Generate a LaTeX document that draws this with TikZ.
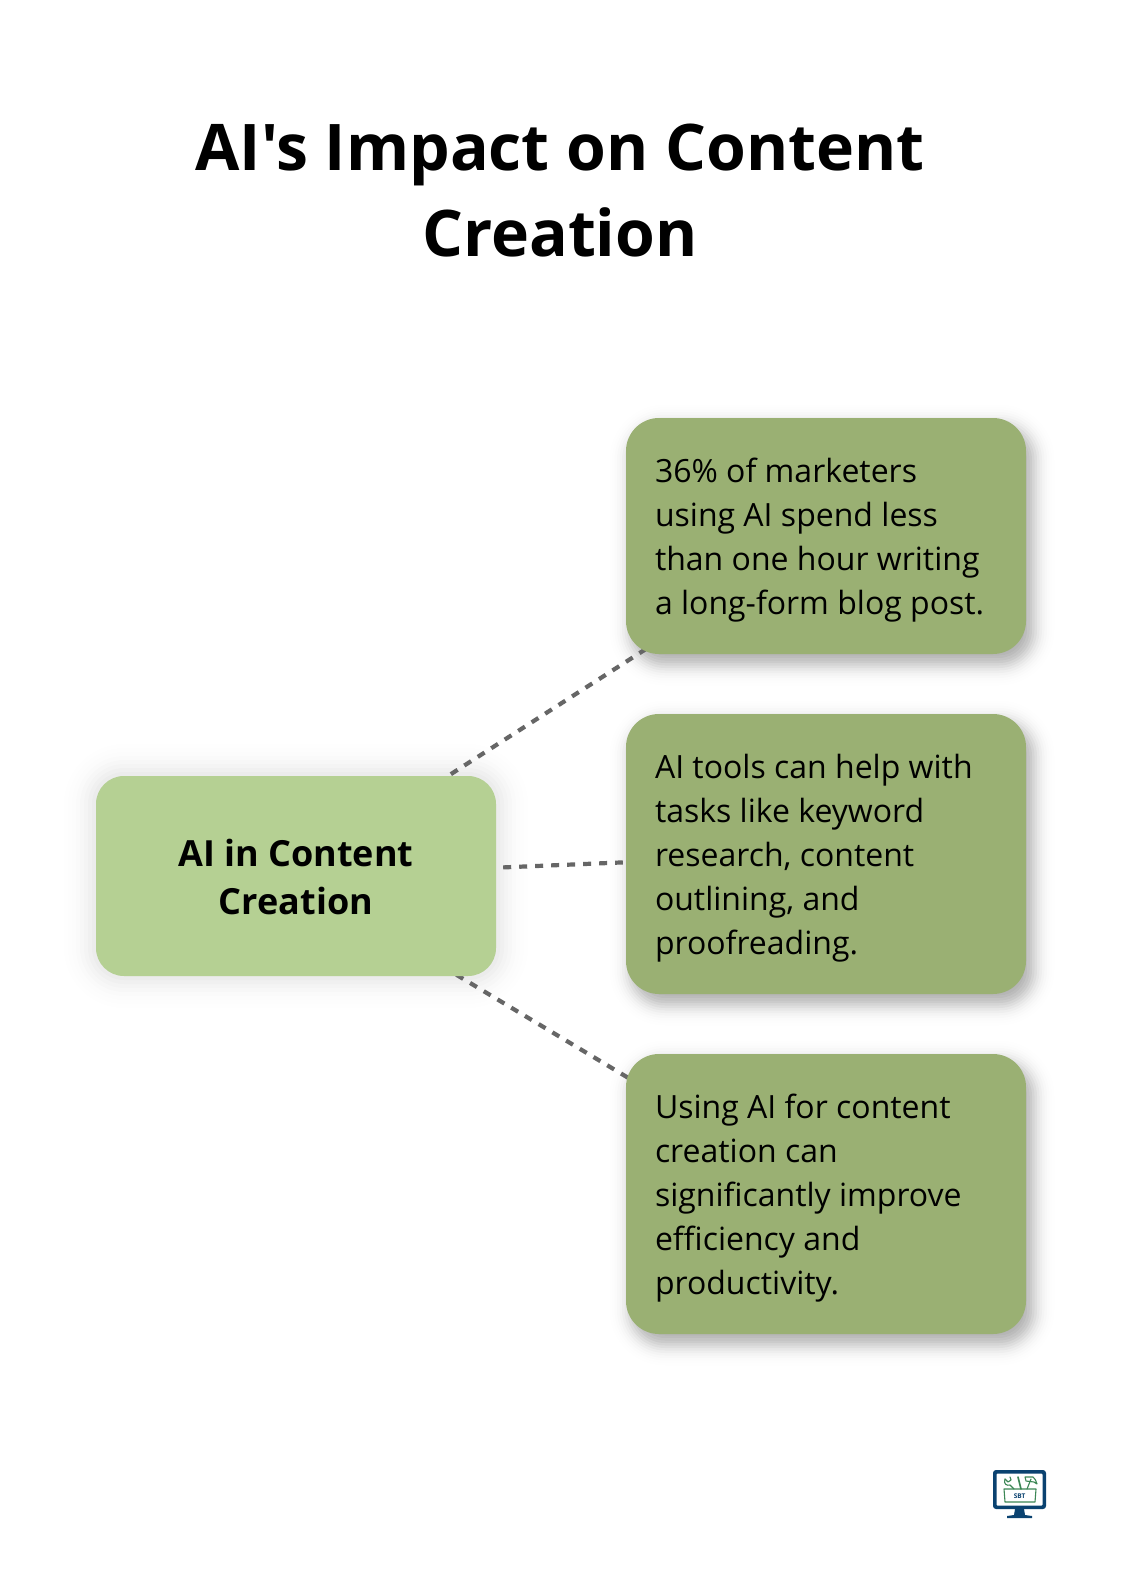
\documentclass[tikz,border=0pt]{standalone}
\usepackage{fontspec}
\newfontfamily\opensans{Open Sans}
\usetikzlibrary{backgrounds,calc}
\definecolor{lightgreen}{RGB}{181,208,147}
\definecolor{darkgreen}{RGB}{154,176,115}
\definecolor{dashgrey}{RGB}{102,102,102}
\definecolor{logonavy}{RGB}{10,66,112}
\definecolor{logogreen}{RGB}{60,135,85}
\tikzset{
  x=1pt,y=-1pt,
  titletext/.style={font=\opensans\fontsize{64.3}{85.6}\selectfont\bfseries,align=center,text=black,inner sep=0},
  mainbox/.style={fill=lightgreen,rounded corners=28pt,minimum width=400pt,minimum height=200pt,text width=340pt,align=flush center,inner sep=0,font=\opensans\fontsize{36}{48.3}\selectfont\bfseries},
  sidebox/.style={fill=darkgreen,rounded corners=33pt,minimum width=400pt,text width=342pt,align=flush left,inner sep=0,font=\opensans\fontsize{32}{44}\selectfont},
  link/.style={draw=dashgrey,line width=4.2pt,dash pattern=on 8pt off 8pt},
  logoline/.style={draw=logogreen,line width=1.1pt,line cap=round,line join=round}
}
% soft shadow: stacked translucent rounded rectangles with a bell-shaped weight
\newcommand{\softbox}[7]{% x1,y1,x2,y2,radius,sigma,alpha
  \foreach \k in {-10,...,10}{
    \pgfmathsetmacro{\dd}{\k*#6/4}
    \pgfmathsetmacro{\ww}{#7*0.25*0.3989*exp(-(\k/4)*(\k/4)/2)}
    \pgfmathsetmacro{\rr}{max(#5+\dd,1)}
    \fill[black,opacity=\ww,rounded corners=\rr pt] (#1-\dd,#2-\dd) rectangle (#3+\dd,#4+\dd);
  }
}
\newcommand{\lowered}{\rule{0pt}{33pt}}
\newcommand{\nudged}{\rule{0pt}{30pt}}
\begin{document}
\begin{tikzpicture}
\useasboundingbox (0,0) rectangle (1120,1594);
\node[titletext] (title) at (560,190.5) {AI's Impact on Content\\Creation};
\node[mainbox] (main) at (296,876) {\nudged AI in Content\\Creation};
\node[sidebox,minimum height=236pt] (one) at (826,536) {\lowered 36\% of marketers\\using AI spend less\\than one hour writing\\a long-form blog post.};
\node[sidebox,minimum height=280pt] (two) at (826,854) {\lowered AI tools can help with\\tasks like keyword\\research, content\\outlining, and\\proofreading.};
\node[sidebox,minimum height=280pt] (three) at (826,1194) {\lowered Using AI for content\\creation can\\significantly improve\\efficiency and\\productivity.};
\begin{scope}[on background layer]
  \fill[white] (0,0) rectangle (1120,1594);
  \softbox{96}{776}{496}{976}{28}{16}{.17}
  \softbox{632}{427}{1032}{663}{33}{10}{.38}
  \softbox{632}{723}{1032}{1003}{33}{10}{.38}
  \softbox{632}{1063}{1032}{1343}{33}{10}{.38}
  \draw[link,dash phase=8pt] ($(main.center)+(0,-2.5)$) -- ($(one.center)+(0,-2.5)$);
  \draw[link,shorten <=7pt,shorten >=3pt] (main) -- (two);
  \draw[link,dash phase=5pt] ($(main.center)+(0,2.5)$) -- ($(three.center)+(0,2.5)$);
\end{scope}
% logo
\fill[logonavy,rounded corners=3pt] (993,1470) rectangle (1046,1509);
\fill[white,rounded corners=1pt] (996.5,1473.5) rectangle (1042.5,1505.5);
\fill[logonavy] (1015,1509) -- (1024,1509) -- (1025,1515) -- (1032,1516) -- (1032,1518) -- (1007,1518) -- (1007,1516) -- (1014,1515) -- cycle;
\draw[logoline] (1004,1489) -- (1036,1489) -- (1035,1502) -- (1005,1502) -- cycle;
\draw[logoline] (1005,1479) .. controls (1003,1484) and (1007,1486) .. (1010,1485) -- (1014,1489);
\draw[logoline] (1005,1479) -- (1008,1482) -- (1011,1480) -- (1010,1477);
\draw[logoline,line width=1.6pt] (1018,1477) -- (1021,1489);
\draw[logoline] (1027,1489) -- (1031,1479);
\draw[logoline] (1025,1477) -- (1033,1477) .. controls (1035,1478) and (1036,1481) .. (1037,1484) -- (1034,1482) -- (1026,1481) -- cycle;
\node[font=\opensans\fontsize{6.5}{7}\selectfont\bfseries,text=logonavy,inner sep=0] (logotext) at (1019.5,1496.5) {SBT};
\end{tikzpicture}
\end{document}
